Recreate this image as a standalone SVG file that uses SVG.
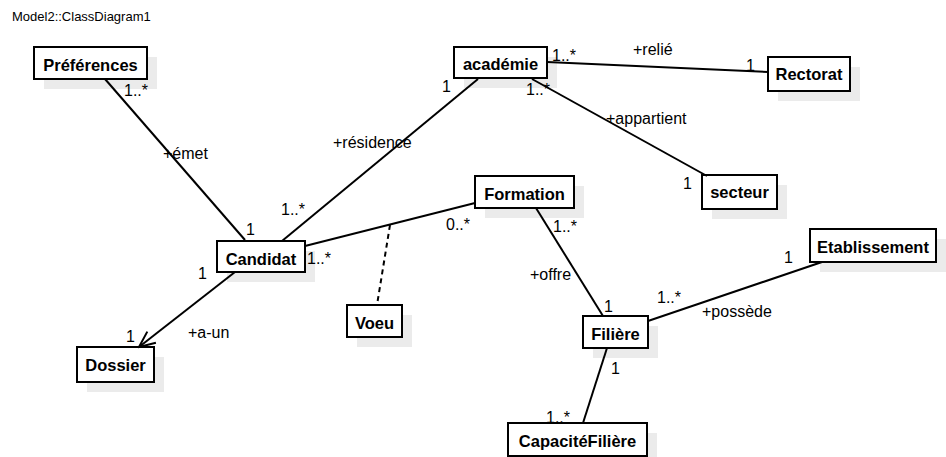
<svg xmlns="http://www.w3.org/2000/svg" width="946" height="457" viewBox="0 0 946 457">
<defs>
<style>
.sh{fill:#ebebeb;stroke:none}
.bx{fill:#fff;stroke:#000;stroke-width:2}
.nm{font-family:"Liberation Sans",Arial,sans-serif;font-weight:bold;font-size:16.5px;text-anchor:middle;fill:#000}
.lb{font-family:"Liberation Sans",Arial,sans-serif;font-size:16px;fill:#000}
.ln{stroke:#000;stroke-width:2;fill:none}
.ds{stroke:#000;stroke-width:2;fill:none;stroke-dasharray:5,4}
</style>
<marker id="open" viewBox="0 0 20 20" refX="18" refY="10" markerWidth="20" markerHeight="20" markerUnits="userSpaceOnUse" orient="auto">
<path d="M2,3 L18,10 L2,17" fill="none" stroke="#000" stroke-width="2"/>
</marker>
</defs>
<rect width="946" height="457" fill="#fff"/>
<text x="12" y="21" font-family="'Liberation Sans',Arial,sans-serif" font-size="13" fill="#000">Model2::ClassDiagram1</text>

<g id="preferences"><rect class="sh" x="44" y="57" width="113" height="32"/><rect class="bx" x="34" y="47" width="113" height="32"/><text class="nm" x="90.5" y="71">Préférences</text></g>
<g id="academie"><rect class="sh" x="464" y="57" width="93" height="31"/><rect class="bx" x="454" y="47" width="93" height="31"/><text class="nm" x="500.5" y="70">académie</text></g>
<g id="rectorat"><rect class="sh" x="778" y="67" width="82" height="34"/><rect class="bx" x="768" y="57" width="82" height="34"/><text class="nm" x="809" y="80">Rectorat</text></g>
<g id="secteur"><rect class="sh" x="712" y="185" width="75" height="34"/><rect class="bx" x="702" y="175" width="75" height="34"/><text class="nm" x="739.5" y="198">secteur</text></g>
<g id="formation"><rect class="sh" x="485" y="186" width="99" height="32"/><rect class="bx" x="475" y="176" width="99" height="32"/><text class="nm" x="524.5" y="200">Formation</text></g>
<g id="candidat"><rect class="sh" x="227" y="251" width="88" height="31"/><rect class="bx" x="217" y="241" width="88" height="31"/><text class="nm" x="261" y="265">Candidat</text></g>
<g id="voeu"><rect class="sh" x="357" y="315" width="55" height="32"/><rect class="bx" x="347" y="305" width="55" height="32"/><text class="nm" x="374.5" y="329">Voeu</text></g>
<g id="dossier"><rect class="sh" x="87" y="357" width="77" height="35"/><rect class="bx" x="77" y="347" width="77" height="35"/><text class="nm" x="115.5" y="371">Dossier</text></g>
<g id="filiere"><rect class="sh" x="593" y="326" width="65" height="32"/><rect class="bx" x="583" y="316" width="65" height="32"/><text class="nm" x="615.5" y="340">Filière</text></g>
<g id="etablissement"><rect class="sh" x="820" y="239" width="126" height="33"/><rect class="bx" x="810" y="229" width="126" height="33"/><text class="nm" x="873" y="253">Etablissement</text></g>
<g id="capacitefiliere"><rect class="sh" x="518" y="433" width="139" height="33"/><rect class="bx" x="508" y="423" width="139" height="33"/><text class="nm" x="577.5" y="447">CapacitéFilière</text></g>

<g id="connectors">
<line class="ln" x1="105" y1="79" x2="245" y2="240"/>
<line class="ln" x1="478" y1="79" x2="282" y2="241"/>
<line class="ln" x1="547" y1="62" x2="768" y2="72"/>
<line class="ln" x1="532" y1="79" x2="707" y2="176"/>
<line class="ln" x1="305" y1="246" x2="475" y2="203"/>
<line class="ds" x1="390" y1="225" x2="377" y2="305"/>
<line class="ln" x1="536" y1="208" x2="603" y2="316"/>
<line class="ln" x1="648" y1="321" x2="822" y2="262"/>
<line class="ln" x1="607" y1="348" x2="583" y2="423"/>
<line class="ln" x1="235" y1="272" x2="139" y2="347" marker-end="url(#open)"/>
<text class="lb" x="124" y="96">1..*</text>
<text class="lb" x="163" y="159">+émet</text>
<text class="lb" x="246" y="235">1</text>
<text class="lb" x="442" y="92">1</text>
<text class="lb" x="333" y="148">+résidence</text>
<text class="lb" x="281" y="215">1..*</text>
<text class="lb" x="552" y="61">1..*</text>
<text class="lb" x="633" y="55">+relié</text>
<text class="lb" x="746" y="71">1</text>
<text class="lb" x="526" y="95">1..*</text>
<text class="lb" x="606" y="124">+appartient</text>
<text class="lb" x="683" y="189">1</text>
<text class="lb" x="307" y="264">1..*</text>
<text class="lb" x="446" y="230">0..*</text>
<text class="lb" x="553" y="232">1..*</text>
<text class="lb" x="530" y="280">+offre</text>
<text class="lb" x="604" y="312">1</text>
<text class="lb" x="657" y="303">1..*</text>
<text class="lb" x="702" y="317">+possède</text>
<text class="lb" x="784" y="263">1</text>
<text class="lb" x="611" y="374">1</text>
<text class="lb" x="546" y="423">1..*</text>
<text class="lb" x="198" y="279">1</text>
<text class="lb" x="126" y="342">1</text>
<text class="lb" x="188" y="338">+a-un</text>
</g>
</svg>
